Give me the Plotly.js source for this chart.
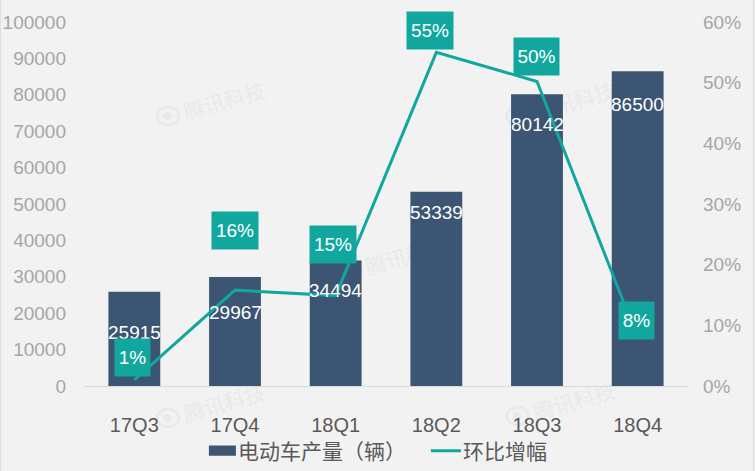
<!DOCTYPE html>
<html><head><meta charset="utf-8">
<script src="https://cdn.plot.ly/plotly-3.0.1.min.js"></script>
<style>html,body{margin:0;padding:0;background:#f2f2f2}
.legend .traces:first-child .legendpoints path{transform:translate(21.5px,0) scale(2.25,.85)}
.legendtext{transform:translateX(-3px)}
</style></head>
<body><div id="c" style="width:755px;height:471px"></div>
<script>
const categories = ['17Q3','17Q4','18Q1','18Q2','18Q3','18Q4'];
const production = [25915,29967,34494,53339,80142,86500];
const growth = [0.01,0.158,0.149,0.55,0.502,0.079];
const growthLabels = ['1%','16%','15%','55%','50%','8%'];
const barLabelShiftY = [-41,-36,-30,-21,-30,-33];
const growthLabelShiftX = [-1.5,0,-3,-6,-0.5,-1.5];
const growthLabelShiftY = [22,60,51,22,25,18];
const growthLabelWidths = [35,46,46,46,45,35];
const wmText = '腾讯科技';
const wmSpots = [[225,103],[407,258],[225,405],[575,103],[575,403]];
const CJK = '"Noto Sans CJK SC","Liberation Sans",Arial,sans-serif';
const SANS = '"Liberation Sans",Arial,sans-serif';
const teal = '#11a79e', navy = '#3b5573', wmColor = '#e9e9e9';
const L=84,R=688.5,T=22,B=386;
const px = v => (v-L)/(R-L), py = v => (B-v)/(B-T);

const shapes = [];
wmSpots.forEach(p => {
  const base = {xref:'paper',yref:'paper',layer:'below'};
  shapes.push({...base,type:'rect',x0:px(p[0]-45),x1:px(p[0]+45),y0:py(p[1]+15),y1:py(p[1]-15),line:{width:0},fillcolor:'rgba(0,0,0,0)',
    label:{text:wmText,textangle:-16,textposition:'middle center',font:{family:CJK,size:21,color:wmColor}}});
  shapes.push({...base,type:'circle',x0:px(p[0]-68),x1:px(p[0]-46),y0:py(p[1]+22),y1:py(p[1]+4),line:{color:wmColor,width:3},fillcolor:'rgba(0,0,0,0)'});
  shapes.push({...base,type:'circle',x0:px(p[0]-62),x1:px(p[0]-53),y0:py(p[1]+17),y1:py(p[1]+9),line:{width:0},fillcolor:wmColor});
});
shapes.push({type:'line',xref:'paper',yref:'paper',x0:px(0.5),x1:px(0.5),y0:py(471),y1:py(0),line:{color:'#dedede',width:1}});
shapes.push({type:'line',xref:'paper',yref:'paper',x0:px(754),x1:px(754),y0:py(471),y1:py(0),line:{color:'#dedede',width:1}});

const annotations = [];
categories.forEach((c,i)=>{
  annotations.push({x:c,y:production[i],xref:'x',yref:'y',yanchor:'middle',yshift:barLabelShiftY[i],text:String(production[i]),showarrow:false,font:{family:SANS,size:19,color:'#fff'}});
  annotations.push({x:c,y:growth[i],xref:'x',yref:'y2',yanchor:'middle',xshift:growthLabelShiftX[i],yshift:growthLabelShiftY[i],text:growthLabels[i],showarrow:false,width:growthLabelWidths[i],height:37,borderpad:0,bgcolor:teal,font:{family:SANS,size:19,color:'#fff'}});
});
Plotly.newPlot('c',[
 {type:'bar',name:'电动车产量（辆）',x:categories,y:production,marker:{color:navy},width:0.515},
 {type:'scatter',mode:'lines',name:'环比增幅',x:categories,y:growth,yaxis:'y2',line:{color:teal,width:3,shape:'linear'}}
],{
 width:755,height:471,paper_bgcolor:'#f2f2f2',plot_bgcolor:'rgba(0,0,0,0)',
 margin:{l:L,r:755-R,t:T,b:471-B,pad:0,autoexpand:false},
 showlegend:true,
 legend:{orientation:'h',x:px(201),xanchor:'left',y:py(451),yanchor:'middle',font:{family:CJK,size:21,color:'#595959'},itemwidth:30,entrywidth:180,entrywidthmode:'pixels',traceorder:'normal',bgcolor:'rgba(0,0,0,0)'},
 xaxis:{type:'category',categoryorder:'array',categoryarray:categories,showgrid:false,zeroline:false,showline:true,linecolor:'#d9d9d9',linewidth:1,ticks:'',tickfont:{family:SANS,size:20,color:'#595959'},ticklabelstandoff:21},
 yaxis:{range:[0,100000],dtick:10000,tickformat:'d',showgrid:false,zeroline:false,showline:false,ticks:'',tickfont:{family:SANS,size:19,color:'#a6a6a6'},ticklabelstandoff:17},
 yaxis2:{overlaying:'y',side:'right',range:[0,0.6],dtick:0.1,tickformat:'.0%',showgrid:false,zeroline:false,showline:false,ticks:'',tickfont:{family:SANS,size:19,color:'#a6a6a6'},ticklabelstandoff:14},
 shapes:shapes,
 annotations:annotations
},{displayModeBar:false,staticPlot:true});
</script></body></html>
